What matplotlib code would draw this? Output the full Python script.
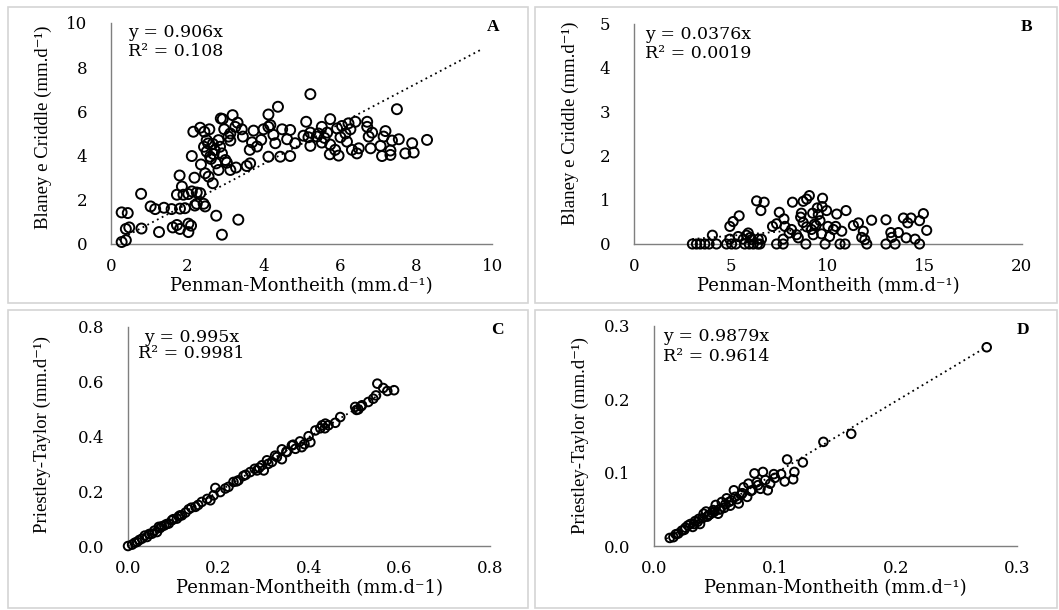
import matplotlib
matplotlib.use("Agg")
import matplotlib.pyplot as plt
from matplotlib.patches import Rectangle
import numpy as np

# Panel A: Penman-Montheith vs Blaney e Criddle
a_x = [0.28, 0.39, 0.28, 0.44, 0.39, 0.48, 0.8, 0.79, 1.04, 1.16, 1.39, 1.59, 1.26, 1.62, 1.81, 1.73,
       2.03, 2.1, 2.03, 1.81, 1.94, 1.73, 1.9, 2.03, 1.8, 1.86, 2.12, 2.19, 2.16, 2.12, 2.25, 2.34,
       2.25, 2.43, 2.47, 2.2, 2.34, 2.45, 2.58, 2.36, 2.47, 2.56, 2.67, 2.51, 2.44, 2.51, 2.67, 2.6,
       2.69, 2.76, 2.82, 2.76, 2.91, 2.88, 2.93, 2.82, 2.86, 2.91, 2.97, 3.08, 3.13, 3.13, 3.19, 3.32,
       3.26, 3.43, 3.04, 3.13, 3.28, 3.34, 3.46, 3.56, 3.65, 3.64, 3.74, 3.83, 3.94, 4.0, 4.13, 4.18,
       4.13, 4.13, 4.26, 4.31, 4.38, 4.44, 4.49, 4.7, 4.62, 4.83, 4.7, 5.23, 5.12, 5.23, 5.23, 5.18,
       5.44, 5.53, 5.4, 5.53, 5.67, 5.75, 5.75, 5.74, 5.97, 5.88, 5.93, 6.02, 6.06, 6.15, 6.19, 6.23,
       6.28, 6.32, 6.41, 6.45, 6.5, 6.72, 6.72, 6.76, 6.81, 6.85, 7.07, 7.11, 7.15, 7.2, 7.33, 7.33,
       7.37, 7.5, 7.55, 7.72, 7.9, 7.94, 8.29, 2.62, 2.72, 3.0, 2.55, 3.7, 5.05, 5.6]
a_y = [0.09, 0.17, 1.43, 1.4, 0.68, 0.75, 0.7, 2.27, 1.7, 1.58, 1.64, 1.58, 0.54, 0.75, 0.68, 0.86,
       0.92, 0.83, 0.54, 1.6, 1.62, 2.23, 2.23, 2.26, 3.1, 2.6, 3.98, 3.0, 5.08, 2.38, 2.33, 2.3,
       1.82, 1.82, 1.7, 1.74, 5.26, 5.08, 5.19, 3.6, 3.2, 3.05, 2.75, 4.7, 4.4, 4.18, 4.53, 3.95,
       4.07, 3.65, 3.35, 1.28, 0.42, 5.68, 5.65, 4.7, 4.4, 4.1, 5.19, 4.86, 5.0, 4.68, 5.83, 5.49,
       5.3, 5.19, 3.68, 3.35, 3.46, 1.1, 4.86, 3.53, 3.65, 4.26, 5.13, 4.41, 4.71, 5.19, 5.3, 5.38,
       5.86, 3.95, 4.94, 4.56, 6.21, 3.95, 5.19, 5.16, 4.74, 4.56, 3.98, 6.78, 5.53, 5.04, 4.44, 4.83,
       5.0, 5.3, 4.86, 4.59, 5.04, 5.65, 4.5, 4.06, 4.0, 4.26, 5.23, 4.83, 5.34, 5.0, 4.63, 5.46,
       5.19, 4.26, 5.53, 4.1, 4.33, 5.53, 5.3, 4.86, 4.33, 5.04, 4.44, 3.98, 4.86, 5.11, 4.03, 4.23,
       4.68, 6.1, 4.74, 4.1, 4.56, 4.14, 4.71, 3.85, 4.25, 3.8, 4.55, 4.6, 4.9, 4.8]

# Panel B
b_x = [3.01, 3.22, 3.42, 3.65, 3.87, 4.25, 4.77, 5.03, 5.25, 5.71, 5.94, 6.15, 6.37, 6.49, 7.35, 7.69,
       8.86, 9.85, 10.62, 10.88, 12.0, 12.99, 13.46, 14.72, 4.04, 4.94, 5.37, 5.89, 5.63, 6.06, 6.4,
       6.57, 4.94, 5.11, 5.42, 6.32, 6.71, 6.54, 7.14, 7.35, 7.49, 7.73, 7.78, 7.69, 8.12, 8.17, 8.72,
       9.04, 8.9, 9.72, 8.63, 8.59, 8.72, 8.9, 9.15, 9.21, 9.45, 9.5, 9.59, 9.38, 9.24, 8.38, 8.47,
       9.93, 10.0, 9.67, 10.08, 10.45, 10.93, 10.71, 10.28, 11.31, 11.57, 11.82, 11.74, 12.25, 12.99,
       13.24, 13.63, 13.29, 13.89, 14.28, 14.11, 14.03, 14.72, 14.92, 15.09, 14.49, 8.0, 9.3, 9.7,
       6.0, 5.8, 10.4, 11.9]
b_y = [0.0, 0.0, 0.0, 0.0, 0.0, 0.0, 0.0, 0.0, 0.0, 0.0, 0.0, 0.0, 0.0, 0.0, 0.0, 0.0,
       0.0, 0.0, 0.0, 0.0, 0.0, 0.0, 0.0, 0.0, 0.2, 0.11, 0.17, 0.25, 0.11, 0.1, 0.11,
       0.11, 0.4, 0.51, 0.64, 0.98, 0.95, 0.76, 0.4, 0.46, 0.72, 0.57, 0.4, 0.11, 0.33, 0.95, 0.97,
       1.1, 1.02, 1.04, 0.7, 0.61, 0.49, 0.39, 0.33, 0.7, 0.82, 0.67, 0.53, 0.42, 0.21, 0.21, 0.14,
       0.76, 0.4, 0.23, 0.17, 0.68, 0.76, 0.29, 0.33, 0.42, 0.48, 0.29, 0.15, 0.54, 0.55,
       0.26, 0.26, 0.15, 0.59, 0.59, 0.48, 0.14, 0.53, 0.69, 0.31, 0.11, 0.25, 0.45, 0.85,
       0.15, 0.2, 0.4, 0.1]

# Panel C: Penman-Montheith vs Priestley-Taylor
c_x = [0.0, 0.009, 0.02, 0.031, 0.042, 0.053, 0.064, 0.071, 0.08, 0.09, 0.097, 0.108, 0.119, 0.127,
       0.134, 0.149, 0.163, 0.182, 0.193, 0.189, 0.204, 0.222, 0.233, 0.244, 0.255, 0.27, 0.285, 0.296,
       0.3, 0.307, 0.318, 0.329, 0.34, 0.34, 0.351, 0.362, 0.37, 0.38, 0.384, 0.399, 0.403, 0.414,
       0.429, 0.436, 0.443, 0.458, 0.469, 0.502, 0.509, 0.517, 0.531, 0.542, 0.551, 0.564, 0.573,
       0.588, 0.548, 0.015, 0.037, 0.058, 0.075, 0.1, 0.115, 0.14, 0.175, 0.26, 0.28, 0.31, 0.35,
       0.39, 0.425, 0.505, 0.025, 0.047, 0.068, 0.085, 0.112, 0.155, 0.215, 0.24, 0.29, 0.325, 0.365,
       0.435, 0.515]
c_y = [0.0, 0.005, 0.015, 0.027, 0.033, 0.045, 0.051, 0.066, 0.075, 0.082, 0.094, 0.1, 0.112, 0.122,
       0.134, 0.143, 0.161, 0.167, 0.212, 0.185, 0.197, 0.216, 0.234, 0.24, 0.256, 0.27, 0.276, 0.295,
       0.276, 0.313, 0.307, 0.325, 0.353, 0.317, 0.343, 0.367, 0.355, 0.382, 0.361, 0.401, 0.379, 0.422,
       0.441, 0.447, 0.441, 0.45, 0.471, 0.508, 0.499, 0.514, 0.526, 0.538, 0.593, 0.577, 0.566,
       0.569, 0.55, 0.012, 0.038, 0.056, 0.072, 0.098, 0.112, 0.14, 0.172, 0.26, 0.282, 0.3, 0.345,
       0.372, 0.43, 0.497, 0.022, 0.044, 0.07, 0.08, 0.108, 0.15, 0.21, 0.236, 0.286, 0.33, 0.37,
       0.43, 0.51]

# Panel D
d_x = [0.013, 0.016, 0.02, 0.023, 0.026, 0.028, 0.032, 0.034, 0.037, 0.038, 0.041, 0.043, 0.046, 0.049,
       0.051, 0.053, 0.056, 0.06, 0.063, 0.066, 0.067, 0.07, 0.074, 0.077, 0.078, 0.081, 0.083, 0.085,
       0.088, 0.09, 0.094, 0.096, 0.099, 0.105, 0.108, 0.11, 0.116, 0.115, 0.123, 0.14, 0.163, 0.275,
       0.03, 0.036, 0.044, 0.048, 0.054, 0.058, 0.062, 0.072, 0.08, 0.092, 0.018, 0.025, 0.033,
       0.04, 0.045, 0.05, 0.055, 0.059, 0.064, 0.069, 0.073, 0.086, 0.1]
d_y = [0.011, 0.012, 0.017, 0.021, 0.025, 0.028, 0.026, 0.034, 0.037, 0.03, 0.044, 0.047, 0.043, 0.049,
       0.056, 0.044, 0.06, 0.065, 0.055, 0.076, 0.067, 0.058, 0.08, 0.067, 0.085, 0.076, 0.099, 0.087,
       0.078, 0.101, 0.076, 0.085, 0.098, 0.098, 0.088, 0.118, 0.101, 0.091, 0.114, 0.142, 0.153, 0.271,
       0.03, 0.033, 0.04, 0.045, 0.05, 0.052, 0.06, 0.07, 0.075, 0.09, 0.016, 0.022, 0.03,
       0.038, 0.042, 0.047, 0.05, 0.057, 0.062, 0.064, 0.072, 0.083, 0.093]

panels = [
    dict(x=a_x, y=a_y, slope=0.906, r2="0.108", fit=(0.2, 9.75), lim=10, ticks=[0, 2, 4, 6, 8, 10],
         yticks=[0, 2, 4, 6, 8, 10], fmt="{:g}", ylab="Blaney e Criddle (mm.d⁻¹)",
         xlab="Penman-Montheith (mm.d⁻¹)", ylim=10, letter="A", ms=7.2,
         pos=[0.1048, 0.6, 0.36, 0.3623], ylc=(-0.178, 0.53), txt=(0.045, 0.955, 0.045, 0.869),
         let=(1.003, 0.98)),
    dict(x=b_x, y=b_y, slope=0.0376, r2="0.0019", fit=(3.0, 9.5), lim=20, ticks=[0, 5, 10, 15, 20],
         yticks=[0, 1, 2, 3, 4, 5], fmt="{:g}", ylab="Blaney e Criddle (mm.d⁻¹)",
         xlab="Penman-Montheith (mm.d⁻¹)", ylim=5, letter="B", ms=6.6,
         pos=[0.5987, 0.6, 0.3663, 0.3607], ylc=(-0.165, 0.55), txt=(0.028, 0.95, 0.028, 0.868),
         let=(1.013, 0.985)),
    dict(x=c_x, y=c_y, slope=0.995, r2="0.9981", fit=(0.0, 0.59), lim=0.8,
         ticks=[0, 0.2, 0.4, 0.6, 0.8], yticks=[0, 0.2, 0.4, 0.6, 0.8], fmt="{:.1f}",
         ylab="Priestley-Taylor (mm.d⁻¹)", xlab="Penman-Montheith (mm.d⁻1)", ylim=0.8,
         letter="C", ms=6.2, pos=[0.1209, 0.1049, 0.3418, 0.3591], ylc=(-0.238, 0.51),
         txt=(0.044, 0.954, 0.028, 0.877), let=(1.02, 0.986)),
    dict(x=d_x, y=d_y, slope=0.9879, r2="0.9614", fit=(0.01, 0.275), lim=0.3,
         ticks=[0, 0.1, 0.2, 0.3], yticks=[0, 0.1, 0.2, 0.3], fmt="{:.1f}",
         ylab="Priestley-Taylor (mm.d⁻¹)", xlab="Penman-Montheith (mm.d⁻¹)", ylim=0.3,
         letter="D", ms=6.2, pos=[0.6176, 0.1049, 0.3427, 0.3607], ylc=(-0.204, 0.5),
         txt=(0.025, 0.95, 0.025, 0.86), let=(1.017, 0.98)),
]

wide = ["DejaVu Serif"]
narrow = ["Liberation Serif", "DejaVu Serif"]

fig = plt.figure(figsize=(10.59, 6.10), dpi=100)

# light grey frames around each panel
W, H = 1059, 610
for (x0, y0, x1, y1) in [(8, 7, 528, 303), (535, 7, 1057, 303), (8, 310, 528, 608), (535, 310, 1057, 608)]:
    fig.add_artist(Rectangle((x0 / W, 1 - y1 / H), (x1 - x0) / W, (y1 - y0) / H,
                             transform=fig.transFigure, fill=False, ec="#d4d4d4", lw=1.2))

for p in panels:
    ax = fig.add_axes(p["pos"])
    ax.scatter(p["x"], p["y"], s=p["ms"] ** 2, facecolors="none", edgecolors="black",
               linewidths=1.4, zorder=3, clip_on=False)
    fx = np.array(p["fit"])
    ax.plot(fx, p["slope"] * fx, ls=(0, (1, 2)), color="black", lw=1.3, zorder=2)
    ax.set_xlim(0, p["lim"])
    ax.set_ylim(0, p["ylim"])
    ax.set_xticks(p["ticks"])
    ax.set_yticks(p["yticks"])
    ax.set_xticklabels([p["fmt"].format(t) for t in p["ticks"]], family=wide, fontsize=12)
    ax.set_yticklabels([p["fmt"].format(t) for t in p["yticks"]], family=wide, fontsize=12)
    ax.tick_params(length=0)
    ax.tick_params(axis="x", pad=10)
    ax.tick_params(axis="y", pad=17)
    for s in ["top", "right"]:
        ax.spines[s].set_visible(False)
    for s in ["left", "bottom"]:
        ax.spines[s].set_color("#7f7f7f")
        ax.spines[s].set_linewidth(1.0)
    ax.set_xlabel(p["xlab"], family=wide, fontsize=13, va="center")
    ax.xaxis.set_label_coords(0.5, -0.19)
    ax.set_ylabel(p["ylab"], family=narrow, fontsize=13.5, va="center")
    ax.yaxis.set_label_coords(*p["ylc"])
    tx = p["txt"]
    ax.text(tx[0], tx[1], "y = {}x".format(p["slope"]), transform=ax.transAxes,
            family=wide, fontsize=12.5, va="center", ha="left")
    ax.text(tx[2], tx[3], "R² = {}".format(p["r2"]), transform=ax.transAxes,
            family=wide, fontsize=12.5, va="center", ha="left")
    ax.text(p["let"][0], p["let"][1], p["letter"], transform=ax.transAxes, family=narrow,
            fontsize=12.5, fontweight="bold", va="center", ha="center")

fig.savefig("out.png", dpi=100)
